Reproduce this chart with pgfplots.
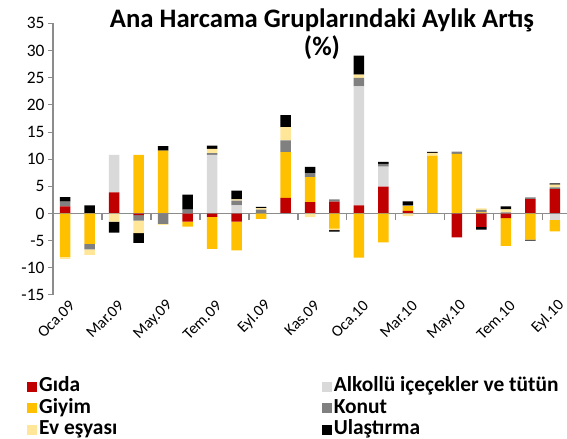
\documentclass[border=0pt]{standalone}
\usepackage{fontspec}
\setmainfont{Carlito}
\usepackage{pgfplots}
\pgfplotsset{compat=1.18}
\usepackage{pgfplotstable}

\definecolor{gida}{HTML}{C00000}
\definecolor{alk}{HTML}{D9D9D9}
\definecolor{giyim}{HTML}{FFC000}
\definecolor{konut}{HTML}{808080}
\definecolor{ev}{HTML}{FFE699}
\definecolor{ulas}{HTML}{000000}
\definecolor{axgray}{HTML}{8C8C8C}

% monthly change by group, Oca.09 .. Eyl.10
\pgfplotstableread{
x   gida   alk   giyim  konut  ev     ulas
0   1.30   0.0   -8.00   0.90  -0.35   0.80
1   0.00   0.0   -5.60  -1.00  -1.00   1.50
2   3.90   6.9    0.00   0.00  -1.50  -2.00
3  -0.30   0.0   10.80  -1.00  -2.30  -1.80
4   0.00   0.0   11.60  -1.90  -0.20   0.80
5  -1.50   0.0   -0.90   0.70   0.00   2.80
6  -0.60  10.8   -5.90   0.30   0.80   0.60
7  -1.50   1.5   -5.30   0.85   0.25   1.60
8   0.00   0.0   -1.00   0.70   0.30   0.20
9   2.90   0.0    8.40   2.15   2.45   2.20
10  2.10   0.0    4.60   0.75  -0.65   1.15
11  2.20   0.0   -2.80   0.40  -0.25  -0.30
12  1.50  21.9   -8.10   1.55   0.60   3.50
13  4.95   3.7   -5.30   0.50   0.00   0.35
14  0.50   0.0    0.85   0.20  -0.50   0.70
15  0.00   0.0   10.60   0.00   0.55   0.20
16 -4.40   0.0   11.00   0.40   0.00   0.00
17 -2.45   0.0    0.20   0.45   0.30  -0.50
18 -0.85   0.0   -5.10   0.20   0.55   0.55
19  2.65   0.0   -4.80   0.30   0.00  -0.20
20  4.50  -1.2   -2.10   0.30   0.50   0.25
}\monthly

\pgfplotsset{
  base/.style={
    at={(53bp,144bp)}, anchor=south west,
    scale only axis, width=514bp, height=271.6bp,
    xmin=-0.5, xmax=20.5, ymin=-15, ymax=35,
    ybar stacked, bar width=10.5bp, clip=false,
  },
  pos/.style={table/x=x, table/y expr={max(\thisrow{#1},0)}},
  neg/.style={table/x=x, table/y expr={min(\thisrow{#1},0)}},
}

\begin{document}
\begin{tikzpicture}[x=1bp,y=1bp]
\useasboundingbox (0,0) rectangle (567,439);

% positive parts, with ticks and legend
\begin{axis}[base,
  axis line style={draw=none},
  /pgf/number format/assume math mode=true,
  ytick={-15,-10,...,35},
  ytick pos=left, tick align=outside, major tick length=5bp,
  ytick style={axgray, line width=1bp},
  y tick label style={font=\fontsize{17.5}{20}\selectfont},
  xtick={0,2,...,20},
  xticklabels={Oca.09,Mar.09,May.09,Tem.09,Eyl.09,Kas.09,Oca.10,Mar.10,May.10,Tem.10,Eyl.10},
  xtick pos=bottom, major x tick style={draw=none},
  x tick label style={rotate=45, anchor=east, font=\fontsize{16}{19}\selectfont,
    yshift=-7bp, xshift=6bp},
  legend columns=2,
  legend cell align=left,
  legend image code/.code={\fill[#1] (0bp,-5bp) rectangle (10bp,5bp);},
  legend style={at={(-0.05,-0.297)}, anchor=north west, draw=none, fill=none,
    inner sep=0pt, row sep=0pt,
    font=\bfseries\fontsize{21.5}{24}\selectfont,
    nodes={inner sep=1.75bp, text height=14bp, text depth=4bp},
    /tikz/every even column/.append style={column sep=203bp}},
]
\addplot[fill=gida,  draw=none] table[pos=gida]  {\monthly};
\addlegendentry{Gıda}
\addplot[fill=alk,   draw=none] table[pos=alk]   {\monthly};
\addlegendentry{Alkollü içeçekler ve tütün}
\addplot[fill=giyim, draw=none] table[pos=giyim] {\monthly};
\addlegendentry{Giyim}
\addplot[fill=konut, draw=none] table[pos=konut] {\monthly};
\addlegendentry{Konut}
\addplot[fill=ev,    draw=none] table[pos=ev]    {\monthly};
\addlegendentry{Ev eşyası}
\addplot[fill=ulas,  draw=none] table[pos=ulas]  {\monthly};
\addlegendentry{Ulaştırma}
\end{axis}

% negative parts stack downward from zero
\begin{axis}[base, hide axis]
\addplot[fill=gida,  draw=none] table[neg=gida]  {\monthly};
\addplot[fill=alk,   draw=none] table[neg=alk]   {\monthly};
\addplot[fill=giyim, draw=none] table[neg=giyim] {\monthly};
\addplot[fill=konut, draw=none] table[neg=konut] {\monthly};
\addplot[fill=ev,    draw=none] table[neg=ev]    {\monthly};
\addplot[fill=ulas,  draw=none] table[neg=ulas]  {\monthly};
\draw[axgray, line width=1.5bp] (rel axis cs:0,0) -- (rel axis cs:0,1);
\draw[axgray, line width=1.5bp] (axis cs:-0.5,0) -- (axis cs:20.5,0);
\pgfplotsinvokeforeach{1.5,3.5,5.5,7.5,9.5,11.5,13.5,15.5,17.5,19.5}{
  \draw[axgray, line width=1.5bp] (axis cs:#1,0) -- ([yshift=-6bp]axis cs:#1,0);
}
\end{axis}

\node[font=\bfseries\fontsize{26.8}{28}\selectfont, align=center] at (322,405)
  {Ana Harcama Gruplarındaki Aylık Artış\\(\%)};
\end{tikzpicture}
\end{document}
